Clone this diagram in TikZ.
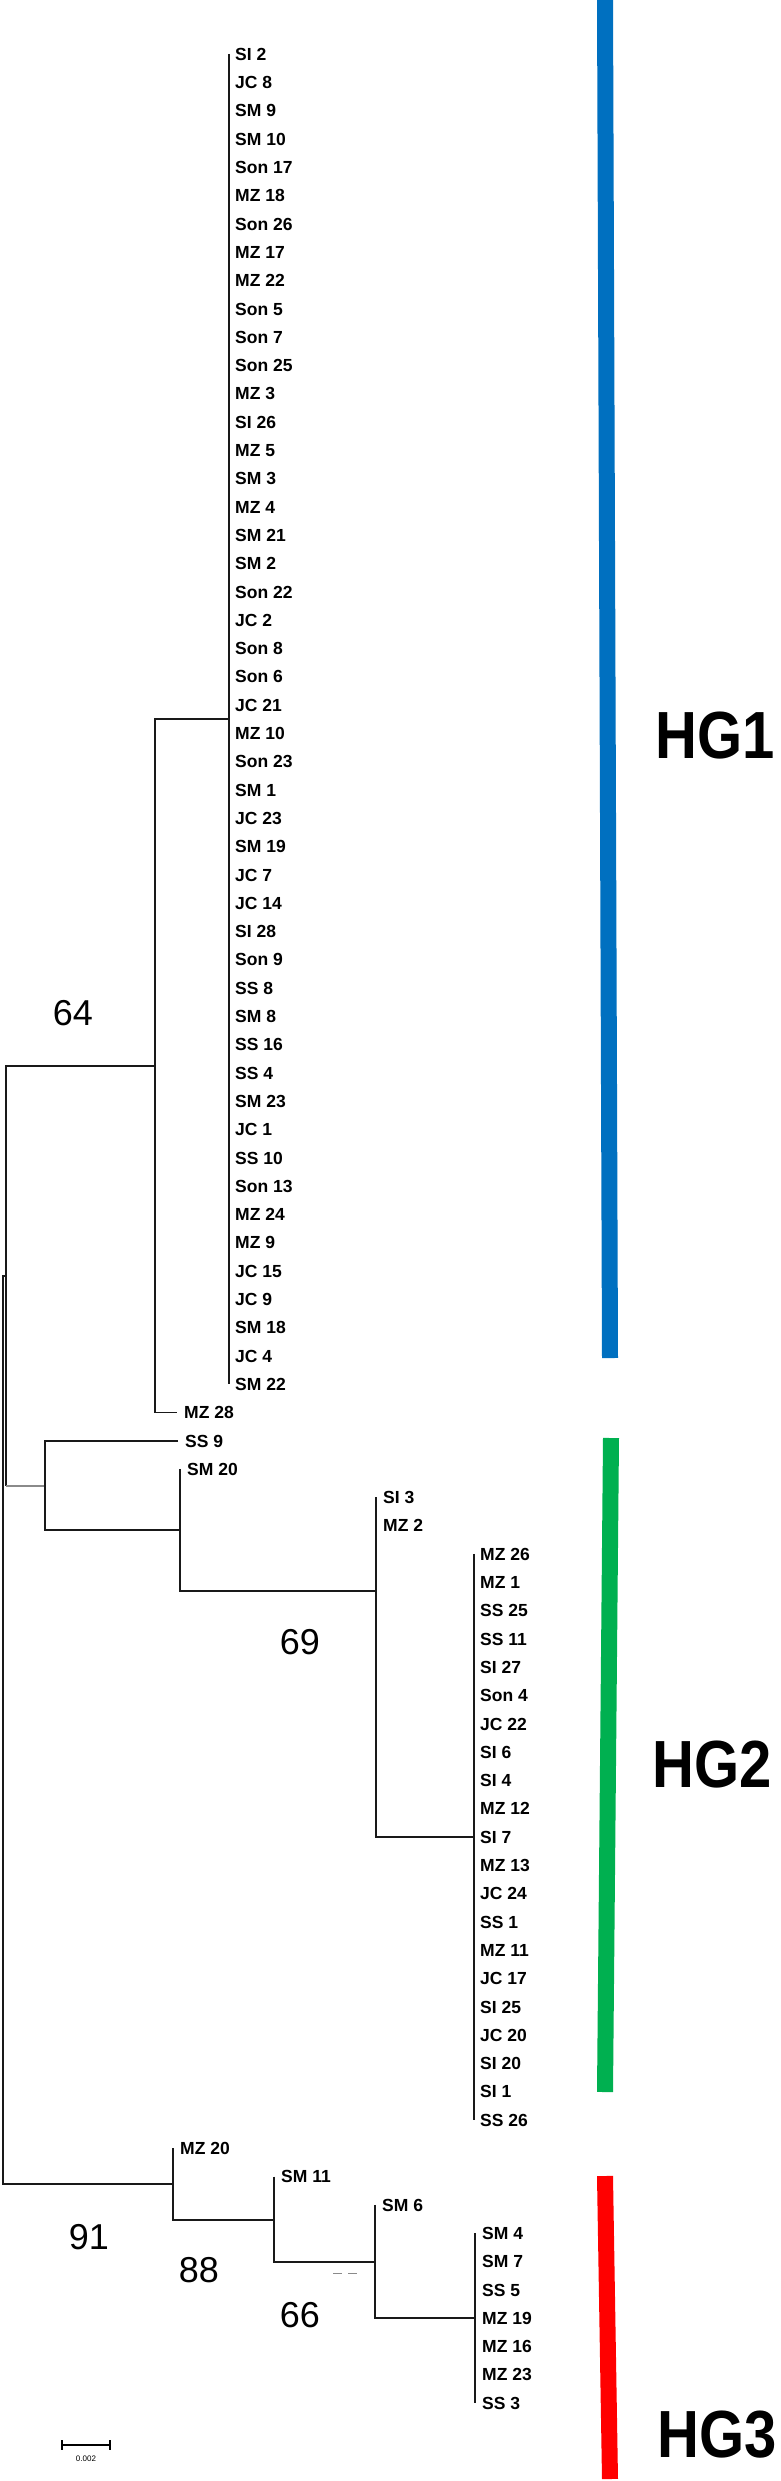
\documentclass[tikz,border=0pt]{standalone}
\usepackage{fontspec}
\setmainfont{Liberation Sans}
\usepackage{tikz}
\usetikzlibrary{calc}
\definecolor{hgBlue}{HTML}{0070C0}
\definecolor{hgGreen}{HTML}{00B050}
\definecolor{hgRed}{HTML}{FF0000}
\definecolor{brGray}{HTML}{8A8A8A}

\begin{document}
\begin{tikzpicture}[x=1pt, y=-1pt,
      br/.style={line width=1.6pt, color=black!90},
      leaf/.style={anchor=west, inner sep=0pt, text height=12.7pt, text depth=0pt,
                   font=\bfseries\fontsize{17.5}{18}\selectfont},
      boot/.style={inner sep=0pt, font=\fontsize{36}{40}\selectfont},
      hg/.style={inner sep=0pt, font=\bfseries\fontsize{58}{60}\selectfont},
      bar/.style={line width=16pt, line cap=butt}]
    \useasboundingbox (0,0) rectangle (780,2481);

    % leaves of HG1
    \foreach \lab [count=\i from 0] in {SI 2, JC 8, SM 9, SM 10, Son 17, MZ 18,
        Son 26, MZ 17, MZ 22, Son 5, Son 7, Son 25, MZ 3, SI 26, MZ 5, SM 3, MZ 4,
        SM 21, SM 2, Son 22, JC 2, Son 8, Son 6, JC 21, MZ 10, Son 23, SM 1, JC 23,
        SM 19, JC 7, JC 14, SI 28, Son 9, SS 8, SM 8, SS 16, SS 4, SM 23, JC 1, SS 10,
        Son 13, MZ 24, MZ 9, JC 15, JC 9, SM 18, JC 4, SM 22}
      {\coordinate (t\i) at (229,{54+28.3*\i});
       \node[leaf] (l\i) at ([xshift=6pt]t\i) {\lab};}
    % single leaves
    \foreach \i/\x/\lab in {48/177/MZ 28, 49/178/SS 9, 50/180/SM 20, 51/376/SI 3,
        52/376/MZ 2, 74/173/MZ 20, 75/274/SM 11, 76/375/SM 6}
      {\coordinate (t\i) at (\x,{54+28.3*\i});
       \node[leaf] (l\i) at ([xshift=7pt]t\i) {\lab};}
    % leaves of HG2
    \foreach \lab [count=\i from 53] in {MZ 26, MZ 1, SS 25, SS 11, SI 27, Son 4,
        JC 22, SI 6, SI 4, MZ 12, SI 7, MZ 13, JC 24, SS 1, MZ 11, JC 17, SI 25,
        JC 20, SI 20, SI 1, SS 26}
      {\coordinate (t\i) at (474,{54+28.3*\i});
       \node[leaf] (l\i) at ([xshift=6pt]t\i) {\lab};}
    % leaves of HG3
    \foreach \lab [count=\i from 77] in {SM 4, SM 7, SS 5, MZ 19, MZ 16, MZ 23, SS 3}
      {\coordinate (t\i) at (475,{54+28.3*\i});
       \node[leaf] (l\i) at ([xshift=7pt]t\i) {\lab};}

    % inner nodes
    \coordinate (n1)   at (229,719);
    \coordinate (n64)  at (155,1066);
    \coordinate (nA)   at (6,1276);
    \coordinate (n9)   at (45,1486);
    \coordinate (n20)  at (180,1530);
    \coordinate (n69)  at (376,1591);
    \coordinate (n2)   at (474,1837);
    \coordinate (root) at (3,1730);
    \coordinate (n91)  at (173,2184);
    \coordinate (n88)  at (274,2220);
    \coordinate (n66)  at (375,2262);
    \coordinate (n3)   at (475,2318);

    % branches
    \draw[br] (t0) -- (t47);
    \draw[br] (n1) -| (n64) |- (t48);
    \draw[br] (n64) -| (nA) -- (nA |- n9);
    \draw[line width=1.2pt, brGray] (nA |- n9) -- (n9);
    \draw[br] (t49) -| (n9) |- (n20);
    \draw[br] (t50) |- (n69);
    \draw[br] (t51) |- (n2);
    \draw[br] (t53) -- (t73);
    \draw[br] (nA) -| (root) |- (n91);
    \draw[br] (t74) |- (n88);
    \draw[br] (t75) |- (n66);
    \draw[br] (t76) |- (n3);
    \draw[br] (t77) -- (t83);
    \draw[brGray, line width=0.8pt, dash pattern=on 9pt off 6pt] (333,2273) -- (357,2273);

    % bootstrap values
    \node[boot] (b64) at (73,1013) {64};
    \node[boot] (b69) at (300,1642) {69};
    \node[boot] (b91) at (89,2237) {91};
    \node[boot] (b88) at (199,2270) {88};
    \node[boot] (b66) at (300,2315) {66};

    % scale bar
    \coordinate (s1) at (62,2445);
    \coordinate (s2) at (110,2445);
    \draw[line width=1.2pt] (s1) -- (s2);
    \draw[line width=1.2pt] ($(s1)+(0,-5)$) -- ($(s1)+(0,5)$);
    \draw[line width=1.2pt] ($(s2)+(0,-5)$) -- ($(s2)+(0,5)$);
    \node[inner sep=0pt, font=\fontsize{8}{8}\selectfont] (sl) at (86,2459) {0.002};

    % haplogroup bars
    \draw[bar, hgBlue]  (605,0) -- (610,1358);
    \draw[bar, hgGreen] (611,1438) -- (605,2092);
    \draw[bar, hgRed]   (605,2176) -- (610,2479);
    \node[hg] (hg1) at (715,736)  {\scalebox{1}[1.15]{HG1}};
    \node[hg] (hg2) at (712,1765) {\scalebox{1}[1.15]{HG2}};
    \node[hg] (hg3) at (717,2435) {\scalebox{1}[1.15]{HG3}};
  \end{tikzpicture}
\end{document}
